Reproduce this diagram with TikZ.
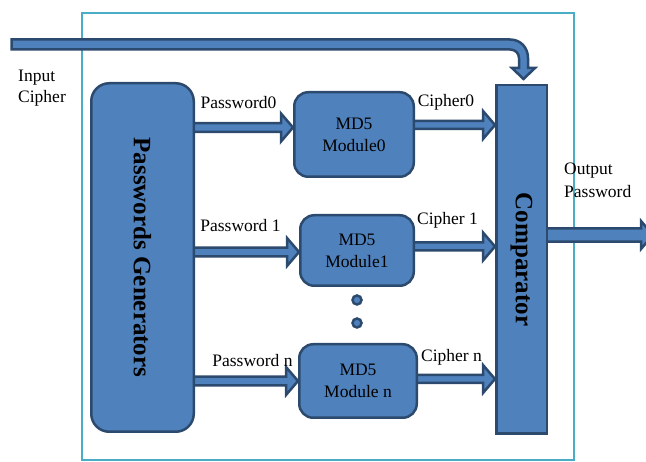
\documentclass[tikz,border=0pt]{standalone}
\usepackage{fontspec}
\setmainfont{Liberation Serif}
\usetikzlibrary{calc}
\definecolor{boxfill}{HTML}{4F81BD}
\definecolor{boxline}{HTML}{2C4A6E}
\definecolor{framecol}{HTML}{4BACC6}
\pgfdeclarelayer{framelayer}
\pgfdeclarelayer{arrowlayer}
\pgfsetlayers{framelayer,arrowlayer,main}
\tikzset{
  blk/.style={fill=boxfill, draw=boxline, line width=2.5pt, line join=miter},
  rbox/.style={blk, rounded corners=14pt, inner sep=0pt, align=center, font=\fontsize{17.5}{22}\selectfont},
  sbox/.style={blk, inner sep=0pt},
  lbl/.style={inner sep=0pt, anchor=base, font=\fontsize{17.5}{22}\selectfont},
  lbll/.style={inner sep=0pt, anchor=base west, font=\fontsize{17.5}{22}\selectfont},
  bigtxt/.style={inner sep=0pt, rotate=-90, font=\fontsize{25}{30}\selectfont\bfseries},
  dotnode/.style={circle, fill=boxfill, draw=boxline, line width=2.5pt, minimum size=9pt, inner sep=0pt},
}
% horizontal block arrow: [shaft half width]{start}{end}
\newcommand\harrow[3][4.5pt]{%
  \draw[blk] let \p1=(#2), \p2=(#3) in
    (\x1,\y1+#1) -- (\x2-12pt,\y1+#1) -- (\x2-12pt,\y1+14pt) -- (\x2,\y1)
    -- (\x2-12pt,\y1-14pt) -- (\x2-12pt,\y1-#1) -- (\x1,\y1-#1) -- cycle;}
\begin{document}
\begin{tikzpicture}[x=1pt,y=-1pt]
\useasboundingbox (0,0) rectangle (646,462);
% outer frame
\begin{pgfonlayer}{framelayer}
  \draw[framecol, line width=2.8pt] (82,13) rectangle (574,460);
\end{pgfonlayer}
% boxes
\node[rbox, rounded corners=18pt, minimum width=102.5pt, minimum height=348.5pt] (pg) at (142.5,257.5) {};
\node[bigtxt] (pgt) at (pg.center) {Passwords Generators};
\node[rbox, minimum width=119.5pt, minimum height=84.5pt] (m0) at (354,134.5) {MD5\\Module0};
\node[rbox, minimum width=113.5pt, minimum height=70.5pt] (m1) at (357,250.5) {MD5\\Module1};
\node[rbox, minimum width=117.5pt, minimum height=73.5pt] (mn) at (358,381) {MD5\\Module n};
\node[sbox, minimum width=50.5pt, minimum height=348.5pt] (cmp) at (521.5,259.5) {};
\node[bigtxt] (cmpt) at (cmp.center) {Comparator};
% dots
\node[dotnode] (d1) at (357,300) {};
\node[dotnode] (d2) at (357,323) {};
% arrow anchor coordinates
\coordinate (p0s) at (192,127.5);
\coordinate (p1s) at (192,252);
\coordinate (pns) at (192,381);
\coordinate (c0s) at (413,125);
\coordinate (c1s) at (413,246.5);
\coordinate (cns) at (416,379);
\coordinate (outs) at (545,235);
\coordinate (oute) at (653,235);
\coordinate (inp) at (11.5,44.5);
\begin{pgfonlayer}{arrowlayer}
  \harrow[4.3pt]{p0s}{m0.west |- p0s}
  \harrow[4.3pt]{p1s}{m1.west |- p1s}
  \harrow[4.3pt]{pns}{mn.west |- pns}
  \harrow[4pt]{c0s}{cmp.west |- c0s}
  \harrow[4pt]{c1s}{cmp.west |- c1s}
  \harrow[4pt]{cns}{cmp.west |- cns}
  \harrow[6.7pt]{outs}{oute}
  % input cipher arrow bending down onto the comparator
  \draw[blk] ($(inp)+(0,-5)$) -- (510,39.5) .. controls (520.5,39.5) and (528,47.5) .. (528,58)
    -- (528,68) -- (535,68) -- ($(cmp.north)+(2,-5)$) -- (512,68) -- (519,68) -- (519,58)
    .. controls (519,53) and (515,49.5) .. (510,49.5) -- ($(inp)+(0,5)$) -- cycle;
\end{pgfonlayer}
% labels
\node[lbl] (lp0) at (238.5,109) {Password0};
\node[lbl] (lp1) at (240.5,232) {Password 1};
\node[lbl] (lpn) at (252.5,367) {Password n};
\node[lbl] (lc0) at (446,107) {Cipher0};
\node[lbl] (lc1) at (447.5,225) {Cipher 1};
\node[lbl] (lcn) at (451.5,362) {Cipher n};
\node[lbll] (li1) at (18,82) {Input};
\node[lbll] (li2) at (18,103) {Cipher};
\node[lbll] (lo1) at (564,175) {Output};
\node[lbll] (lo2) at (564,198) {Password};
\end{tikzpicture}
\end{document}
